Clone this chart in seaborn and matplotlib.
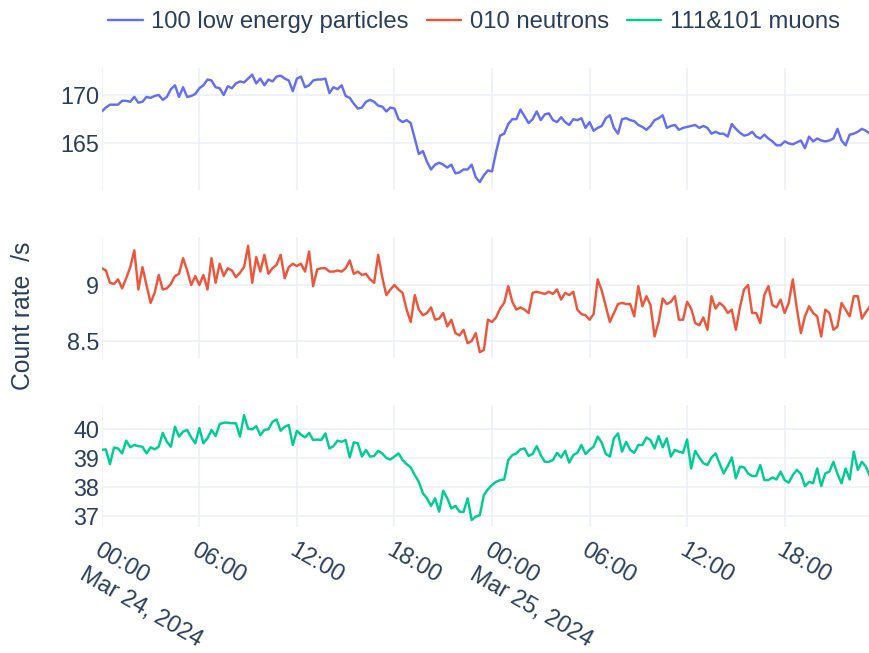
import matplotlib
matplotlib.use("Agg")
import matplotlib.pyplot as plt
import matplotlib.dates as mdates
from matplotlib.ticker import FuncFormatter, FixedLocator
from matplotlib.lines import Line2D
import pandas as pd
import seaborn as sns

# ---- data: count rates sampled every 15 minutes from 2024-03-24 00:00 ----
start_time = "2024-03-24 00:00"
sample_step = "15min"

low_energy = [
    168.3, 168.7, 169.0, 169.0, 169.0, 169.4, 169.4, 169.3, 169.8, 169.2,
    169.3, 169.8, 169.7, 169.9, 170.0, 169.5, 169.8, 170.6, 171.0, 169.8,
    170.8, 169.8, 169.9, 170.1, 170.7, 171.0, 171.6, 171.5, 170.8, 170.7,
    170.0, 170.9, 170.7, 171.2, 171.4, 171.3, 171.7, 172.1, 171.2, 171.7,
    171.0, 171.6, 171.4, 171.9, 172.0, 171.7, 171.5, 170.4, 171.7, 171.9,
    170.8, 171.0, 171.5, 171.6, 171.6, 171.7, 170.2, 170.8, 170.6, 171.0,
    169.9, 169.7, 169.1,
    168.6, 168.7, 169.3, 169.5, 169.3, 168.9, 168.8, 168.3, 168.7, 168.6,
    167.5, 167.2, 167.4, 167.1, 165.5, 163.9, 164.2, 163.1, 162.3, 162.8,
    163.0, 162.8, 162.5, 162.8, 161.9, 162.0, 162.3, 162.3, 162.8, 161.5,
    161.0, 161.7, 162.2, 162.1, 164.1, 165.8, 166.0, 167.0, 167.5, 167.5,
    168.5, 167.8, 167.1, 167.5, 168.3, 167.4, 168.0, 168.1, 167.4, 167.2,
    167.7, 167.2, 166.9, 167.5, 167.4, 167.6, 166.6, 167.2, 166.3, 166.6,
    166.8, 167.6, 167.9,
    166.6, 166.0, 167.5, 167.6, 167.4, 167.3, 166.9, 166.7, 166.4, 166.8,
    167.4, 167.6, 167.9, 166.6, 166.8, 166.9, 166.4, 166.6, 166.7, 166.8,
    166.9, 166.6, 166.8, 166.6, 166.0, 166.2, 166.0, 166.0, 165.7, 167.0,
    166.5, 166.1, 165.8, 165.9, 166.2, 165.7, 165.5, 165.9, 165.5, 165.2,
    164.8, 164.8, 165.2, 165.0, 164.9, 165.1, 165.3, 164.5, 165.7, 165.2,
    165.5, 165.3, 165.2, 165.3, 165.5, 166.5, 165.3, 164.8, 165.9, 166.0,
    166.2, 166.5, 166.3, 166.0,
]

neutrons = [
    9.15, 9.13, 9.02, 9.01, 9.05, 8.97, 9.06, 9.16, 9.31, 8.96,
    9.16, 9.00, 8.84, 8.93, 9.09, 8.96, 8.97, 9.01, 9.08, 9.10,
    9.24, 9.13, 9.00, 9.08, 9.00, 9.09, 8.96, 9.24, 9.02, 9.19,
    9.08, 9.15, 9.13, 9.07, 9.11, 9.16, 9.35, 9.02, 9.25, 9.12,
    9.27, 9.10, 9.15, 9.18, 9.27, 9.06, 9.16, 9.19, 9.17, 9.19,
    9.12, 9.30, 8.99, 9.14, 9.15, 9.15, 9.12, 9.12, 9.13, 9.12,
    9.15, 9.22, 9.10,
    9.12, 9.09, 9.10, 9.05, 9.02, 9.27, 9.07, 8.91, 8.96, 9.00,
    8.96, 8.93, 8.78, 8.67, 8.91, 8.78, 8.73, 8.75, 8.80, 8.69,
    8.70, 8.75, 8.63, 8.69, 8.57, 8.55, 8.60, 8.48, 8.50, 8.57,
    8.40, 8.42, 8.69, 8.67, 8.71, 8.79, 8.84, 8.99, 8.85, 8.78,
    8.80, 8.78, 8.75, 8.93, 8.94, 8.93, 8.92, 8.94, 8.92, 8.96,
    8.87, 8.93, 8.91, 8.94, 8.78, 8.74, 8.73, 8.69, 8.74, 9.05,
    8.95, 8.81, 8.67,
    8.75, 8.83, 8.84, 8.83, 8.83, 8.72, 8.99, 8.81, 8.90, 8.82,
    8.54, 8.67, 8.88, 8.83, 8.85, 8.90, 8.69, 8.69, 8.85, 8.79,
    8.66, 8.64, 8.71, 8.60, 8.90, 8.79, 8.84, 8.81, 8.75, 8.78,
    8.60, 8.80, 8.96, 9.00, 8.75, 8.75, 8.66, 8.91, 8.99, 8.82,
    8.80, 8.87, 8.75, 8.84, 9.05, 8.79, 8.57, 8.72, 8.81, 8.75,
    8.72, 8.54, 8.78, 8.75, 8.60, 8.63, 8.84, 8.78, 8.72, 8.90,
    8.90, 8.70, 8.76, 8.81,
]

muons = [
    39.28, 39.30, 38.79, 39.36, 39.33, 39.16, 39.60, 39.37, 39.45, 39.41,
    39.39, 39.16, 39.37, 39.30, 39.39, 39.87, 39.56, 39.39, 40.08, 39.74,
    39.91, 39.97, 39.71, 39.51, 40.03, 39.51, 39.68, 39.97, 39.76, 40.17,
    40.22, 40.22, 40.20, 40.20, 39.74, 40.48, 40.01, 39.99, 40.10, 39.79,
    39.97, 39.99, 40.25, 40.33, 39.94, 40.08, 40.14, 39.45, 39.94, 39.81,
    39.71, 39.87, 39.62, 39.64, 39.62, 39.85, 39.33, 39.41, 39.60, 39.56,
    39.62, 39.02, 39.54,
    39.51, 39.05, 39.28, 39.05, 39.07, 39.25, 39.16, 39.00, 38.95, 39.05,
    39.16, 38.93, 38.79, 38.68, 38.41, 38.18, 37.78, 37.61, 37.35, 37.61,
    37.15, 37.87, 37.61, 37.26, 37.35, 37.15, 37.14, 37.61, 36.86, 36.98,
    37.03, 37.72, 37.92, 38.07, 38.18, 38.24, 38.26, 38.93, 39.10, 39.16,
    39.30, 39.33, 39.07, 39.14, 39.41, 39.10, 38.87, 38.87, 38.93, 39.18,
    39.02, 39.25, 38.84, 39.10, 39.18, 39.45, 39.14, 39.28, 39.39, 39.74,
    39.53, 39.14, 39.05,
    39.68, 39.85, 39.22, 39.56, 39.28, 39.18, 39.45, 39.45, 39.71, 39.62,
    39.33, 39.76, 39.37, 39.68, 39.05, 39.28, 39.22, 39.18, 39.64, 38.64,
    39.25, 39.02, 38.82, 38.76, 39.02, 39.16, 38.82, 38.47, 38.72, 39.02,
    38.30, 38.70, 38.68, 38.47, 38.38, 38.38, 38.76, 38.24, 38.24, 38.33,
    38.26, 38.53, 38.24, 38.15, 38.41, 38.59, 38.45, 38.03, 38.18, 38.13,
    38.64, 38.03, 38.47, 38.53, 38.87, 38.45, 38.13, 38.64, 38.26, 39.22,
    38.59, 38.87, 38.70, 38.36,
]

series_names = ["100 low energy particles", "010 neutrons", "111&101 muons"]
series_values = [low_energy, neutrons, muons]
series_colors = ["#636EFA", "#EF553B", "#00CC96"]
y_ticks = [[165, 170], [8.5, 9], [37, 38, 39, 40]]
y_limits = [(160.18, 172.79), (8.348, 9.429), (36.62, 40.83)]
y_title = "Count rate  /s"

# ---- styling ----
TEXT = "#2a3f5f"
GRID = "#EBF0F8"
FONT = 16.8

sns.set_theme(style="white")
plt.rcParams["font.family"] = ["Liberation Sans", "DejaVu Sans"]
plt.rcParams["text.color"] = TEXT

times = pd.date_range(start_time, periods=len(low_energy), freq=sample_step)
wide = pd.DataFrame({"time": times})
for name, vals in zip(series_names, series_values):
    wide[name] = vals
long = wide.melt(id_vars="time", var_name="series", value_name="rate")

fig = plt.figure(figsize=(8.7, 6.53), dpi=100)
W, H = 870, 653
left_px = 101.8
panel_px = [(68, 190), (237, 358), (405, 527)]

def fmt_time(x, pos=None):
    d = mdates.num2date(x)
    if d.hour == 0 and d.minute == 0:
        return f"{d:%H:%M}\n{d:%b} {d.day}, {d:%Y}"
    return f"{d:%H:%M}"

axes = []
handles = []
for k, (name, color) in enumerate(zip(series_names, series_colors)):
    top, bot = panel_px[k]
    ax = fig.add_axes([left_px / W, 1 - bot / H, (W - left_px) / W, (bot - top) / H])
    sub = long[long["series"] == name]
    sns.lineplot(data=sub, x="time", y="rate", ax=ax, color=color,
                 linewidth=1.75, errorbar=None, legend=False)
    handles.append(Line2D([], [], color=color, linewidth=1.75))

    ax.set_xlim(times[0], times[-1])
    ax.set_ylim(*y_limits[k])
    ax.yaxis.set_major_locator(FixedLocator(y_ticks[k]))
    ax.yaxis.set_major_formatter(FuncFormatter(lambda v, p: f"{v:g}"))
    ax.xaxis.set_major_locator(mdates.HourLocator(byhour=[0, 6, 12, 18]))
    ax.xaxis.set_major_formatter(FuncFormatter(fmt_time))
    ax.grid(True, color=GRID, linewidth=1.1)
    ax.set_axisbelow(True)
    for s in ax.spines.values():
        s.set_visible(False)
    ax.set_xlabel("")
    ax.set_ylabel("")
    ax.tick_params(axis="both", length=0, colors=TEXT, labelsize=FONT)
    ax.tick_params(axis="y", pad=2)
    if k < 2:
        ax.tick_params(axis="x", labelbottom=False)
    else:
        ax.tick_params(axis="x", pad=8)
    axes.append(ax)

bottom_ax = axes[-1]
for lbl in bottom_ax.get_xticklabels():
    lbl.set_rotation(-30)
    lbl.set_rotation_mode("anchor")
    lbl.set_ha("left")
    lbl.set_va("top")
    lbl.set_multialignment("left")
    lbl.set_linespacing(1.3)

fig.text(23 / W, 1 - 316 / H, y_title, rotation=90, ha="center", va="center",
         fontsize=17.8, color=TEXT)

fig.legend(handles, series_names, loc="center", ncol=3, frameon=False,
           bbox_to_anchor=(474 / W, 1 - 22 / H), fontsize=17.2,
           handlelength=1.45, handletextpad=0.35, columnspacing=0.75,
           labelcolor=TEXT)

fig.savefig("out.png", dpi=100, facecolor="white")
